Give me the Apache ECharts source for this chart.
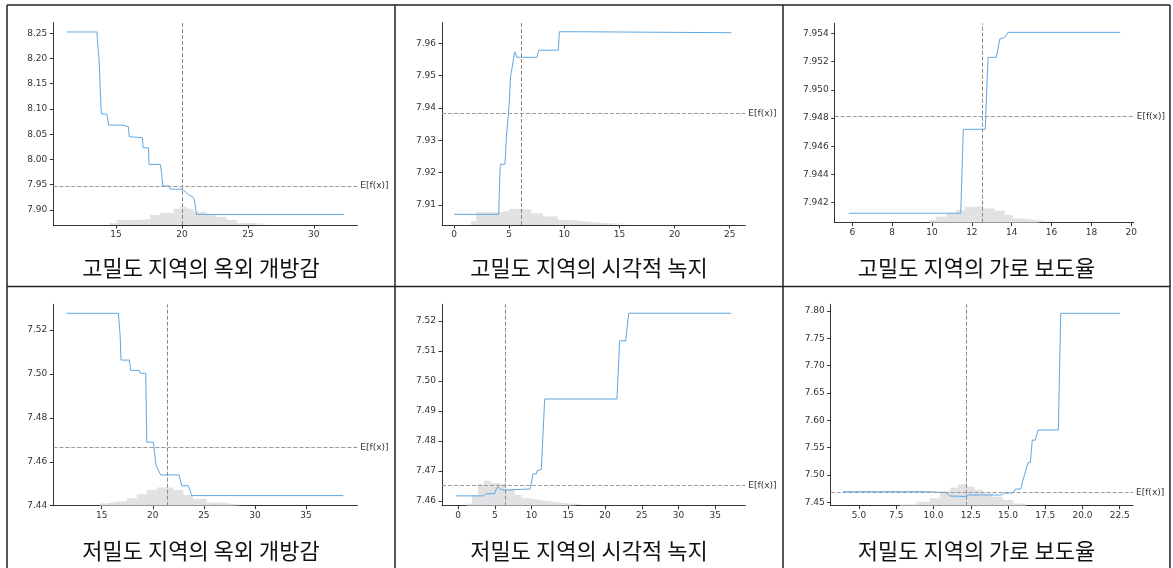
<!DOCTYPE html>
<html><head><meta charset="utf-8">
<script src="https://cdn.jsdelivr.net/npm/echarts@6/dist/echarts.min.js"></script>
<style>html,body{margin:0;padding:0;background:#fff}#c{width:1173px;height:568px}</style>
</head><body><div id="c"></div>
<script>
// ---------- data ----------
const captions = ['고밀도 지역의 옥외 개방감','고밀도 지역의 시각적 녹지','고밀도 지역의 가로 보도율',
                  '저밀도 지역의 옥외 개방감','저밀도 지역의 시각적 녹지','저밀도 지역의 가로 보도율'];

// partial dependence lines [feature value, model output]
const pd1 = [[11.26,8.2526],[13.55,8.2526],[13.6,8.23],[13.71,8.20],[13.86,8.10],[13.91,8.090],[14.3,8.090],[14.45,8.068],[15.43,8.068],[15.5,8.065],[15.93,8.065],[16.0,8.045],[17.0,8.043],[17.05,8.023],[17.46,8.023],[17.5,7.990],[18.35,7.990],[18.45,7.975],[18.53,7.9475],[19.06,7.9475],[19.1,7.941],[20.0,7.941],[20.3,7.935],[20.5,7.930],[20.85,7.925],[20.94,7.920],[21.1,7.891],[32.28,7.891]];
const pd2 = [[0,7.9071],[4.05,7.9071],[4.15,7.919],[4.2,7.9226],[4.62,7.9226],[4.75,7.9311],[4.9,7.9311],[5.0,7.941],[5.12,7.9497],[5.2,7.951],[5.35,7.951],[5.5,7.9574],[5.6,7.9574],[5.71,7.9557],[7.52,7.9557],[7.68,7.9579],[9.46,7.9579],[9.55,7.9636],[11.18,7.9636],[11.25,7.9633],[25.15,7.9633]];
const pd3 = [[5.82,7.94125],[11.44,7.94125],[11.57,7.9472],[12.67,7.9472],[12.81,7.9523],[13.23,7.9523],[13.40,7.9536],[13.65,7.9537],[13.81,7.95407],[19.45,7.95407]];
const pd4 = [[11.57,7.5276],[16.63,7.5276],[16.8,7.5177],[16.89,7.5063],[17.7,7.5063],[17.84,7.5016],[18.68,7.5016],[18.75,7.5003],[19.31,7.5003],[19.41,7.4689],[20.05,7.4689],[20.31,7.4585],[20.5,7.4585],[20.77,7.454],[22.57,7.454],[22.83,7.4491],[23.48,7.4491],[23.81,7.4446],[38.65,7.4446]];
const pd5 = [[-0.23,7.4617],[3.49,7.4617],[3.77,7.4624],[4.99,7.4624],[5.2,7.464],[5.44,7.4647],[5.74,7.464],[6.33,7.4636],[6.79,7.4637],[6.85,7.464],[9.83,7.464],[10.2,7.469],[10.65,7.469],[10.75,7.4701],[11.33,7.4705],[11.79,7.494],[21.62,7.494],[21.99,7.5134],[22.81,7.5134],[23.22,7.5226],[37.17,7.5226]];
const pd6 = [[3.93,7.4694],[9.63,7.4694],[9.7,7.4676],[10.86,7.4676],[11.09,7.4616],[12.1,7.4607],[12.32,7.4634],[14.55,7.4634],[14.78,7.467],[15.34,7.467],[15.5,7.4743],[15.85,7.4743],[16.0,7.49],[16.35,7.523],[16.5,7.523],[16.63,7.564],[16.82,7.5635],[17.02,7.5823],[18.38,7.5823],[18.54,7.7958],[22.5,7.7958]];

// feature histograms: bin edges and relative counts
const histEdges1 = [14.54,15.05,16.56,17.58,18.34,19.35,19.86,20.36,20.87,21.88,22.64,23.4,24.16,25.4,26.5];
const histCounts1 = [2,5,6,10,12,16,18,16,13,10,8,5,2,1];
const histEdges2 = [1.51,2.02,4.05,5.05,6.04,7.01,8.07,9.43,10.79,12.3,14.1,15.6];
const histCounts2 = [4,12.7,14,16,15,11.7,8.3,5,3.3,1.7,1];
const histEdges3 = [9.88,10.21,10.72,11.22,11.64,12.22,12.56,13.14,13.65,14.06,14.57,15.23,15.73];
const histCounts3 = [2.7,6,9.3,12.7,16,16.7,14.3,12,7.7,4.3,2.7,1.3];
const histEdges4 = [14.83,15.49,16.47,17.45,18.43,19.4,20.38,22.01,22.99,23.97,25.28,26.58,27.88,28.86];
const histCounts4 = [2.3,4,4.7,7.3,11.3,15.7,18,15.7,10.7,6.7,3.3,1.7,0.7];
const histEdges5 = [1.13,1.9,2.72,3.49,4.53,5.58,6.57,7.71,8.61,9.75,11.11,12.92,15.19,17];
const histCounts5 = [2.3,10.7,21.3,24.7,22.3,20.7,16.3,10.7,7.3,5.7,4,2.3,1.3];
const histEdges6 = [7.73,8.85,9.75,10.42,11.09,11.65,12.2,12.77,13.32,14.0,14.67,15.34,16.23];
const histCounts6 = [1.3,4,7.3,14,18,21.3,19,15.7,12.3,9,5.7,2.3];

// reference lines: mean feature value (vertical) and E[f(x)] (horizontal)
const meanX = [20.0, 6.14, 12.51, 21.42, 6.44, 12.23];
const expectedF = [7.9475, 7.9383, 7.94809, 7.4664, 7.4652, 7.4676];

// axis ranges
const xRange = [[10.24,33.3],[-1.09,26.41],[5.117,20.12],[10.26,40.02],[-2.18,39.08],[3.1,23.39]];
const yRange = [[7.870,8.271],[7.9038,7.9664],[7.94058,7.95471],[7.44,7.5317],[7.45843,7.52557],[7.4438,7.8123]];

// tick labels
const xTicks1 = [15,20,25,30];
const xTicks2 = [0,5,10,15,20,25];
const xTicks3 = [6,8,10,12,14,16,18,20];
const xTicks4 = [15,20,25,30,35];
const xTicks5 = [0,5,10,15,20,25,30,35];
const xTicks6 = [5.0,7.5,10.0,12.5,15.0,17.5,20.0,22.5];
const yTicks1 = [7.90,7.95,8.00,8.05,8.10,8.15,8.20,8.25];
const yTicks2 = [7.91,7.92,7.93,7.94,7.95,7.96];
const yTicks3 = [7.942,7.944,7.946,7.948,7.950,7.952,7.954];
const yTicks4 = [7.44,7.46,7.48,7.50,7.52];
const yTicks5 = [7.46,7.47,7.48,7.49,7.50,7.51,7.52];
const yTicks6 = [7.45,7.50,7.55,7.60,7.65,7.70,7.75,7.80];
const xDec = [0,0,0,0,0,1];
const yDec = [2,2,3,2,2,2];

// ---------- layout ----------
const pds = [pd1,pd2,pd3,pd4,pd5,pd6];
const hEdges = [histEdges1,histEdges2,histEdges3,histEdges4,histEdges5,histEdges6];
const hCounts = [histCounts1,histCounts2,histCounts3,histCounts4,histCounts5,histCounts6];
const xTicks = [xTicks1,xTicks2,xTicks3,xTicks4,xTicks5,xTicks6];
const yTicks = [yTicks1,yTicks2,yTicks3,yTicks4,yTicks5,yTicks6];

const gridBox = [
  {left:53.3, top:22.7, width:304, height:202.3},
  {left:442, top:22.7, width:303.3, height:202.3},
  {left:834.7, top:23.3, width:299, height:199.4},
  {left:53.3, top:304.3, width:304, height:201.4},
  {left:442, top:304.3, width:303.3, height:201.4},
  {left:830.7, top:304.3, width:302.3, height:201.4}
];
const capPos = [[201,268],[589,268],[976.5,268],[201,551],[589,551],[976.5,551]];

const AX = '#333';
const tickFont = {fontSize:9, color:'#333', fontFamily:'DejaVu Sans'};

const grids = [], xAxes = [], yAxes = [], series = [];
for (let i = 0; i < 6; i++) {
  grids.push(Object.assign({containLabel:false}, gridBox[i]));
  xAxes.push({
    type:'value', gridIndex:i, min:xRange[i][0], max:xRange[i][1],
    axisLine:{show:true, onZero:false, lineStyle:{color:AX, width:1}},
    axisTick:{show:true, length:3.5, lineStyle:{color:AX}, customValues:xTicks[i]},
    axisLabel:Object.assign({customValues:xTicks[i], margin:5,
      formatter:(v)=>Number(v).toFixed(xDec[i])}, tickFont),
    splitLine:{show:false}
  });
  yAxes.push({
    type:'value', gridIndex:i, min:yRange[i][0], max:yRange[i][1],
    axisLine:{show:true, onZero:false, lineStyle:{color:AX, width:1}},
    axisTick:{show:true, length:3.5, lineStyle:{color:AX}, customValues:yTicks[i]},
    axisLabel:Object.assign({customValues:yTicks[i], margin:6,
      formatter:(v)=>Number(v).toFixed(yDec[i])}, tickFont),
    splitLine:{show:false}
  });
  yAxes.push({type:'value', gridIndex:i, min:0, max:200, show:false});

  const e = hEdges[i], c = hCounts[i];
  const hd = c.map((v, k) => [e[k], v]);
  hd.push([e[e.length-1], 0]);
  series.push({
    type:'line', xAxisIndex:i, yAxisIndex:2*i+1, data:hd, step:'end',
    symbol:'none', silent:true, z:1,
    lineStyle:{width:0, color:'#e2e2e4'},
    areaStyle:{color:'#e2e2e4', opacity:1}
  });
  series.push({
    type:'line', xAxisIndex:i, yAxisIndex:2*i, data:pds[i],
    symbol:'none', silent:true, z:3,
    lineStyle:{width:1, color:'#5fa8e4'},
    markLine:{
      symbol:'none', silent:true, animation:false, precision:6,
      data:[
        {xAxis:meanX[i], lineStyle:{color:'#888', width:1, type:[4,2]}, label:{show:false}},
        {yAxis:expectedF[i], lineStyle:{color:'#999', width:1, type:[4,2]},
         label:{show:true, position:'end', formatter:'E[f(x)]', distance:3,
                fontSize:9, color:'#333', fontFamily:'DejaVu Sans'}}
      ]
    }
  });
}

const graphics = [];
const B = {stroke:'#222', lineWidth:1.5};
[[7,5,7,568],[7,5,1170,5],[1170,5,1170,568],[395,5,395,568],[783,5,783,568],[7,286.5,1170,286.5]].forEach(l=>{
  graphics.push({type:'line', silent:true, shape:{x1:l[0],y1:l[1],x2:l[2],y2:l[3]}, style:B, z:10});
});
captions.forEach((t,i)=>{
  graphics.push({type:'text', silent:true, x:capPos[i][0], y:capPos[i][1],
    style:{text:t, textAlign:'center', textVerticalAlign:'middle',
      font:'22px "Noto Sans CJK KR"', fill:'#111'}});
});

const chart = echarts.init(document.getElementById('c'), null, {renderer:'canvas'});
chart.setOption({
  animation:false,
  backgroundColor:'#fff',
  grid:grids, xAxis:xAxes, yAxis:yAxes, series:series, graphic:graphics
});
</script></body></html>
